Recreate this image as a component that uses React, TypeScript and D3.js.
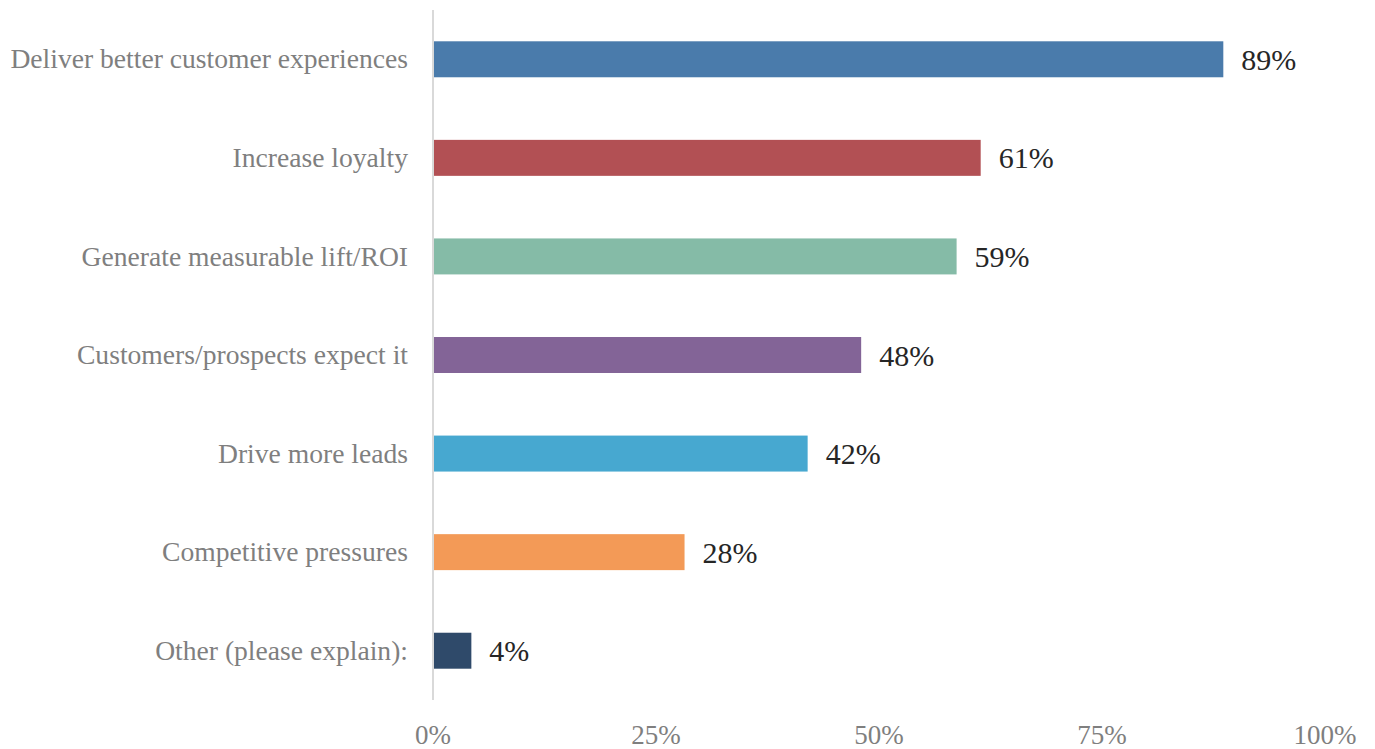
import React from "react";
import * as d3 from "d3";

const categories = [
  "Deliver better customer experiences",
  "Increase loyalty",
  "Generate measurable lift/ROI",
  "Customers/prospects expect it",
  "Drive more leads",
  "Competitive pressures",
  "Other (please explain):",
];
const values = [88.6, 61.4, 58.7, 48.0, 42.0, 28.2, 4.3];
const colors = ["#4A7BAB", "#B25054", "#85BBA7", "#836497", "#47A8D0", "#F39A57", "#2F4A6A"];
const ticks = [0, 25, 50, 75, 100];

const W = 1375;
const H = 749;
const FONT = "'Liberation Serif', 'DejaVu Serif', serif";

export default function App() {
  const x = d3.scaleLinear().domain([0, 100]).range([433, 1325]);
  const y = d3
    .scaleBand<string>()
    .domain(categories)
    .range([10, 700])
    .paddingInner(0.635)
    .paddingOuter(0.3175);

  return (
    <svg
      width={W}
      height={H}
      style={{ position: "absolute", left: 0, top: 0, background: "#fff" }}
      fontFamily={FONT}
    >
      {categories.map((c, i) => {
        const yc = (y(c) as number) + y.bandwidth() / 2;
        return (
          <g key={c}>
            <rect
              x={x(0)}
              y={y(c)}
              width={x(values[i]) - x(0)}
              height={y.bandwidth()}
              fill={colors[i]}
            />
            <text x={408} y={yc} dy="0.33em" textAnchor="end" fontSize={27.6} fill="#7F7F7F">
              {c}
            </text>
            <text x={x(values[i]) + 18} y={yc} dy="0.35em" fontSize={30} fill="#262626">
              {`${Math.round(values[i])}%`}
            </text>
          </g>
        );
      })}
      <line x1={x(0)} x2={x(0)} y1={10} y2={700} stroke="#D9D9D9" strokeWidth={2} />
      {ticks.map((t) => (
        <text key={t} x={x(t)} y={744} textAnchor="middle" fontSize={27} fill="#7F7F7F">
          {`${t}%`}
        </text>
      ))}
    </svg>
  );
}
